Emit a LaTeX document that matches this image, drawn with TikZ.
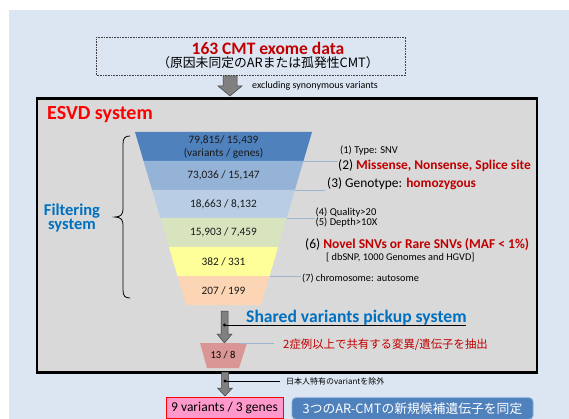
\documentclass[tikz,border=0pt]{standalone}
\usepackage{fontspec}
\usetikzlibrary{calc}
\setmainfont{Carlito}
\newfontfamily\jpfont{Noto Sans CJK JP}
\definecolor{bgblue}{HTML}{DCE6F2}
\definecolor{panelgray}{HTML}{D9D9D9}
\definecolor{darkred}{HTML}{C00000}
\definecolor{brightred}{HTML}{FF0000}
\definecolor{titleblue}{HTML}{0070C0}
\definecolor{layA}{HTML}{4F81BD}
\definecolor{layB}{HTML}{95B3D7}
\definecolor{layC}{HTML}{B9CDE5}
\definecolor{layD}{HTML}{D7E4BD}
\definecolor{layE}{HTML}{FFFF99}
\definecolor{layF}{HTML}{FCD5B5}
\definecolor{sharedpink}{HTML}{D99694}
\definecolor{resultpink}{HTML}{FF99CC}
\definecolor{guide}{HTML}{9FB4CE}
\definecolor{arrowgray}{HTML}{808080}
\definecolor{arrowedge}{HTML}{404040}
\tikzset{
  fs/.style={font=\fontsize{#1}{13}\selectfont},
  lbl/.style={inner sep=0pt, anchor=west},
  layertext/.style={inner sep=0pt, align=center, text=black!90, fs=11.3},
  guideline/.style={draw=guide, line width=0.6pt},
  fatarrow/.style={fill=arrowgray, draw=arrowedge, line width=0.5pt},
  tickline/.style={draw=black, line width=0.6pt},
}
\begin{document}
\begin{tikzpicture}[x=1pt,y=-1pt]
\useasboundingbox (0,0) rectangle (569,419);
% page background
\fill[bgblue] (9,10) rectangle (569,419);

% input data box
\node[draw=arrowedge, densely dotted, line width=0.6pt, minimum width=309pt, minimum height=38pt, inner sep=0pt] (srcbox) at (251,56.5) {};
\node[inner sep=0pt, align=center] (srctext) at (268,55.5)
  {{\color{darkred}\bfseries\fontsize{17.5}{15}\selectfont 163 CMT exome data}\\[1.5pt]
   {\jpfont\fontsize{12.8}{15}\selectfont （原因未同定のARまたは孤発性CMT）}};

% first block arrow
\coordinate (a1top) at (230,76);
\coordinate (a1tip) at (230,96);
\fill[fatarrow] ($(a1top)+(-7,0)$) -- ($(a1top)+(7,0)$) -- ($(a1top)+(7,10)$) -- ($(a1top)+(12,10)$) -- (a1tip) -- ($(a1top)+(-12,10)$) -- ($(a1top)+(-7,10)$) -- cycle;
\node[lbl, fs=10] (exclsyn) at (252,86) {excluding synonymous variants};

% ESVD panel
\node[draw=black, fill=panelgray, line width=2.2pt, minimum width=500pt, minimum height=274pt, inner sep=0pt] (panel) at (287,235.5) {};
\node[lbl, text=brightred, font=\bfseries\fontsize{20}{22}\selectfont] (esvd) at (47,115) {ESVD system};

% filtering funnel
\foreach \yt/\yb/\col/\nm in {132/161/layA/l1,161/190/layB/l2,190/218/layC/l3,218/247/layD/l4,247/276/layE/l5,276/305/layF/l6}{
  \pgfmathsetmacro\hwTop{88.5-0.295*(\yt-132)}
  \pgfmathsetmacro\hwBot{88.5-0.295*(\yb-132)}
  \fill[\col] (223.5-\hwTop,\yt) -- (223.5+\hwTop,\yt) -- (223.5+\hwBot,\yb) -- (223.5-\hwBot,\yb) -- cycle;
  \coordinate (\nm) at (223.5,{(\yt+\yb)/2});
  \coordinate (\nm-br) at (223.5+\hwBot,\yb);
}
\node[layertext, align=center] (t1) at ($(l1)+(0,0.5)$) {79,815/ 15,439\\(variants / genes)};
\node[layertext] (t2) at (l2) {73,036 / 15,147};
\node[layertext] (t3) at (l3) {18,663 / 8,132};
\node[layertext] (t4) at (l4) {15,903 / 7,459};
\node[layertext] (t5) at (l5) {382 / 331};
\node[layertext] (t6) at (l6) {207 / 199};

% guide lines from the funnel to the criteria
\coordinate (g1) at (338,161);
\coordinate (g2) at (325,190);
\coordinate (g3) at (315,218);
\coordinate (g5) at (301,276);
\draw[guideline] (l1-br) -- (g1);
\draw[guideline] (l2-br) -- (g2);
\draw[guideline] (l3-br) -- (g3);
\draw[guideline] (l5-br) -- (g5);

% filtering criteria
\node[lbl, fs=10.5] (c1) at (340,150.5) {(1) Type: SNV};
\node[lbl, fs=13.4] (c2) at (338,165.5) {(2) \textcolor{darkred}{\bfseries Missense, Nonsense, Splice site}};
\node[lbl, fs=13.4] (c3) at (327,183.5) {(3) Genotype: \textcolor{darkred}{\bfseries homozygous}};
\node[lbl, fs=10.5] (c4) at (315.5,212.5) {(4) Quality>20};
\node[lbl, fs=10.5] (c5) at (315.5,223) {(5) Depth>10X};
\node[lbl, fs=13.5] (c6) at (305,245) {(6) \textcolor{darkred}{\bfseries Novel SNVs or Rare SNVs (MAF < 1\%)}};
\node[lbl, fs=10.3] (c6b) at (326,257) {[ dbSNP, 1000 Genomes and HGVD]};
\node[lbl, fs=10.3] (c7) at (302,278) {(7) chromosome: autosome};

% brace and label
\draw[black, line width=0.8pt] (130,136) .. controls (125,136) and (123,138) .. (123,144) -- (123,209) .. controls (123,214) and (121,217) .. (115,217) .. controls (121,217) and (123,220) .. (123,225) -- (123,290) .. controls (123,296) and (125,298) .. (130,298);
\node[inner sep=0pt, align=center, text=titleblue, font=\bfseries\fontsize{16.5}{14}\selectfont] (filtlbl) at (72,218) {Filtering\\system};

% shared-variant step
\coordinate (a2top) at (224.5,311);
\coordinate (a2tip) at (224.5,343);
\fill[fatarrow] ($(a2top)+(-3.5,0)$) -- ($(a2top)+(3.5,0)$) -- ($(a2top)+(3.5,23)$) -- ($(a2top)+(7.5,23)$) -- (a2tip) -- ($(a2top)+(-7.5,23)$) -- ($(a2top)+(-3.5,23)$) -- cycle;
\node[lbl, text=titleblue, font=\bfseries\fontsize{17.6}{18}\selectfont] (shared) at (246,317.5) {Shared variants pickup system};
\coordinate (d2) at (224.5,325);
\coordinate (d2end) at (466,325);
\draw[tickline] (d2) -- (d2end);
\fill[black] (d2) circle (1.6);

\fill[sharedpink] (200,343) -- (247,343) -- (239,368) -- (207,368) -- cycle;
\node[inner sep=0pt, fs=10.5] (t7) at (223,355.5) {13 / 8};
\coordinate (s1) at (240,343.5);
\coordinate (s2) at (274,343.5);
\draw[guideline] (s1) -- (s2);
\node[lbl, text=darkred, font=\jpfont\fontsize{11.4}{13}\selectfont] (sharedjp) at (283,345) {2症例以上で共有する変異/遺伝子を抽出};

% final step
\coordinate (a3top) at (225,372);
\coordinate (a3tip) at (225,396);
\fill[fatarrow] ($(a3top)+(-3.5,0)$) -- ($(a3top)+(3.5,0)$) -- ($(a3top)+(3.5,16)$) -- ($(a3top)+(7.5,16)$) -- (a3tip) -- ($(a3top)+(-7.5,16)$) -- ($(a3top)+(-3.5,16)$) -- cycle;
\coordinate (d3) at (225,381);
\coordinate (d3end) at (280,381);
\draw[tickline] (d3) -- (d3end);
\fill[black] (d3) circle (1.6);
\node[lbl, font=\jpfont\fontsize{8}{9}\selectfont] (jpexcl) at (286,381) {日本人特有のvariantを除外};

\node[draw=brightred, fill=resultpink, line width=0.8pt, minimum width=117pt, minimum height=21.5pt, inner sep=0pt, fs=13.5] (result) at (224.5,408) {9 variants / 3 genes};
\node[draw=layA!70!white, fill=layA, rounded corners=4pt, line width=0.8pt, minimum width=241pt, minimum height=21.5pt, inner sep=0pt, text=white, font=\jpfont\fontsize{12.8}{14}\selectfont] (finding) at (412.5,408.5) {3つのAR-CMTの新規候補遺伝子を同定};
\end{tikzpicture}
\end{document}
